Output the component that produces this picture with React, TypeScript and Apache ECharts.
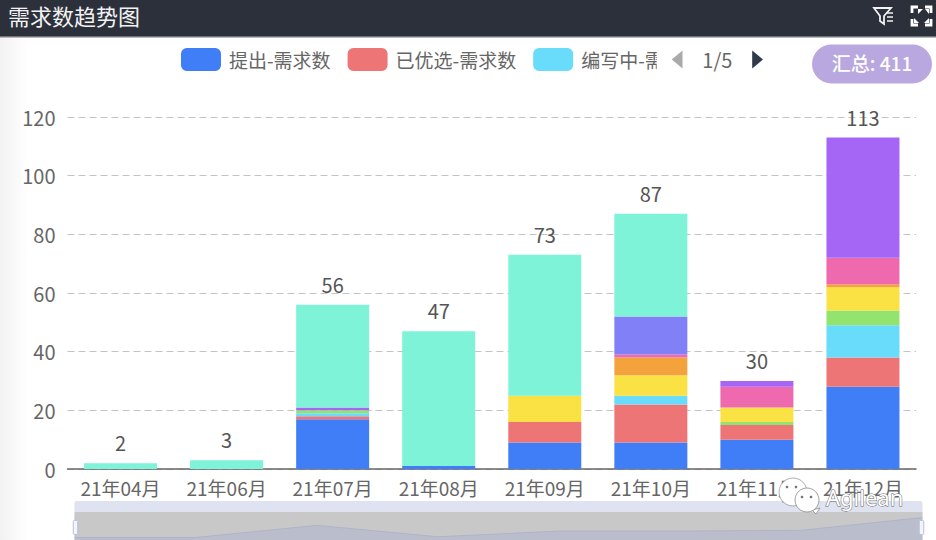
import React, { useEffect, useRef } from "react";
import * as echarts from "echarts";

const TITLE = "需求数趋势图";
const TOTAL_TEXT = "汇总: 411";
const PAGE_TEXT = "1/5";
const WATERMARK = "Agilean";
const months = ["21年04月", "21年06月", "21年07月", "21年08月", "21年09月", "21年10月", "21年11月", "21年12月"];
const legendNames = ["提出-需求数", "已优选-需求数", "编写中-需求数"];
const blue = [0, 0, 17, 1, 9, 9, 10, 28];
const red = [0, 0, 1, 0, 7, 13, 5, 10];
const cyan = [0, 0, 1, 0, 0, 3, 0, 11];
const green = [0, 0, 1, 0, 0, 0, 1, 5];
const yellow = [0, 0, 0, 0, 9, 7, 5, 8];
const orange = [0, 0, 0, 0, 0, 6, 0, 1];
const pink = [0, 0, 0, 0, 0, 1, 7, 9];
const purple = [0, 0, 1, 0, 0, 0, 2, 41];
const indigo = [0, 0, 0, 0, 0, 13, 0, 0];
const teal = [2, 3, 35, 46, 48, 35, 0, 0];
const totals = [2, 3, 56, 47, 73, 87, 30, 113];

const FONT = '"Noto Sans CJK SC", "Noto Sans", sans-serif';

const stack = [
  { name: legendNames[0], data: blue, color: "#3f7ef7" },
  { name: legendNames[1], data: red, color: "#ee7576" },
  { name: legendNames[2], data: cyan, color: "#69dcfb" },
  { name: "s4", data: green, color: "#92e46f" },
  { name: "s5", data: yellow, color: "#fbe244" },
  { name: "s6", data: orange, color: "#f4a23c" },
  { name: "s7", data: pink, color: "#ee69ae" },
  { name: "s8", data: purple, color: "#a566f6" },
  { name: "s9", data: indigo, color: "#8180f6" },
  { name: "s10", data: teal, color: "#7ef3d8" },
];

function buildOption() {
  return {
    animation: false,
    backgroundColor: "#ffffff",
    textStyle: { fontFamily: FONT },
    grid: { left: 67.5, right: 20, top: 117, bottom: 71, containLabel: false },
    legend: {
      type: "scroll",
      data: stack.map((s) => s.name),
      formatter: (name: string) => (legendNames.includes(name) ? name : ""),
      left: 176,
      top: 43,
      width: 582,
      itemWidth: 40,
      itemHeight: 23,
      itemGap: 17,
      icon: "roundRect",
      selectedMode: false,
      textStyle: { color: "#666", fontSize: 19, fontFamily: FONT, padding: [0, 0, 0, 3] },
      pageFormatter: PAGE_TEXT,
      pageIconColor: "#2f3a4c",
      pageIconInactiveColor: "#aaa",
      pageIconSize: [13, 18],
      pageTextStyle: { color: "#666", fontSize: 20, fontFamily: FONT },
      pageButtonGap: 15,
      pageButtonItemGap: 11,
    },
    xAxis: {
      type: "category",
      data: months,
      axisLine: { lineStyle: { color: "#666", width: 1.5 } },
      axisTick: { length: 6, lineStyle: { color: "#666", width: 1.5 } },
      axisLabel: { color: "#666", fontSize: 19, margin: 9, interval: 0, fontFamily: FONT },
    },
    yAxis: {
      type: "value",
      min: 0,
      max: 120,
      interval: 20,
      axisLine: { show: false },
      axisTick: { show: false },
      axisLabel: { color: "#666", fontSize: 20, margin: 12, fontFamily: FONT },
      splitLine: { lineStyle: { color: "#c4c4c4", type: [7, 4], width: 1.2 } },
    },
    dataZoom: [
      {
        type: "slider",
        left: 72,
        right: 16,
        top: 501,
        height: 32,
        showDetail: false,
        brushSelect: true,
        backgroundColor: "#c9c9c9",
        borderColor: "transparent",
        fillerColor: "rgba(200,200,200,0.25)",
        moveHandleSize: 11,
        moveHandleIcon: "none",
        moveHandleStyle: { color: "#dfe3f1", opacity: 1 },
        emphasis: { moveHandleStyle: { color: "#dfe3f1" } },
        handleSize: "70%",
        handleStyle: { color: "#f4f5fa", borderColor: "#b9c0d8" },
        dataBackground: { areaStyle: { color: "#b6bbce", opacity: 1 }, lineStyle: { color: "#a6aec8", opacity: 1, width: 1 } },
        selectedDataBackground: { areaStyle: { color: "#b6bbce", opacity: 1 }, lineStyle: { color: "#a6aec8", opacity: 1, width: 1 } },
      },
    ],
    series: [
      ...stack.map((s) => ({
        type: "bar",
        name: s.name,
        stack: "all",
        data: s.data,
        barWidth: 73,
        itemStyle: { color: s.color },
      })),
      {
        type: "line",
        name: "总计",
        data: totals,
        showSymbol: true,
        showAllSymbol: true,
        symbol: "circle",
        symbolSize: 1,
        itemStyle: { color: "transparent" },
        lineStyle: { opacity: 0, width: 0 },
        label: { show: true, position: "top", distance: 10, color: "#555", opacity: 1, fontSize: 20, fontFamily: FONT },
      },
    ],
    graphic: [
      {
        type: "rect",
        z: 0,
        shape: { x: 0, y: 37, width: 28, height: 503 },
        style: {
          fill: new echarts.graphic.LinearGradient(0, 0, 1, 0, [
            { offset: 0, color: "#f2f2f2" },
            { offset: 1, color: "#ffffff" },
          ]),
        },
      },
      { type: "rect", z: 100, shape: { x: 0, y: 0, width: 936, height: 37 }, style: { fill: "#2b303b" } },
      { type: "rect", z: 100, shape: { x: 0, y: 36.5, width: 936, height: 1.5 }, style: { fill: "#b8b8b8" } },
      {
        type: "text",
        z: 101,
        x: 8,
        y: 15,
        style: { text: TITLE, fill: "#f2f2f2", fontSize: 22, fontFamily: FONT, verticalAlign: "middle", align: "left" },
      },
      {
        type: "polygon",
        z: 101,
        shape: { points: [[874, 8], [891, 8], [884, 16], [884, 24], [880, 21], [880, 16]] },
        style: { fill: "none", stroke: "#f2f2f2", lineWidth: 1.8 },
      },
      ...[13, 17, 21].map((y) => ({
        type: "line",
        z: 101,
        shape: { x1: 887, y1: y, x2: 893, y2: y },
        style: { stroke: "#f2f2f2", lineWidth: 1.5 },
      })),
      ...[
        [[912, 13], [912, 7], [918, 7]],
        [[925, 7], [931, 7], [931, 13]],
        [[912, 19], [912, 25], [918, 25]],
        [[925, 25], [931, 25], [931, 19]],
      ].map((points) => ({
        type: "polyline",
        z: 101,
        shape: { points },
        style: { fill: "none", stroke: "#ffffff", lineWidth: 2.8 },
      })),
      ...[
        [[918, 9], [923, 9], [918, 14]],
        [[925, 9], [929, 9], [929, 14]],
        [[914, 23], [914, 18], [919, 23]],
        [[929, 23], [929, 18], [924, 23]],
      ].map((points) => ({
        type: "polygon",
        z: 101,
        shape: { points },
        style: { fill: "#ffffff" },
      })),
      {
        type: "rect",
        z: 101,
        shape: { x: 812, y: 44.5, width: 120, height: 39, r: 19.5 },
        style: { fill: "#b9a7e0" },
      },
      {
        type: "text",
        z: 102,
        x: 872,
        y: 62,
        style: { text: TOTAL_TEXT, fill: "#ffffff", fontSize: 19, fontWeight: 500, fontFamily: FONT, align: "center", verticalAlign: "middle" },
      },
      {
        type: "polygon",
        z: 110,
        shape: { points: [[782, 502], [786, 498], [792, 504]] },
        style: { fill: "#ffffff", stroke: "#9a9a9a", lineWidth: 0.8 },
      },
      {
        type: "circle",
        z: 110,
        shape: { cx: 793, cy: 492, r: 14 },
        style: { fill: "#ffffff", stroke: "#9a9a9a", lineWidth: 0.8 },
      },
      {
        type: "polygon",
        z: 111,
        shape: { points: [[812, 510], [820, 508], [816, 514]] },
        style: { fill: "#ffffff", stroke: "#8a8a8a", lineWidth: 0.8 },
      },
      {
        type: "circle",
        z: 111,
        shape: { cx: 807, cy: 500, r: 12 },
        style: { fill: "#ffffff", stroke: "#8a8a8a", lineWidth: 0.8 },
      },
      ...[[787, 487], [796, 487], [802, 497], [811, 497]].map(([cx, cy]) => ({
        type: "circle",
        z: 112,
        shape: { cx, cy, r: 1.3 },
        style: { fill: "#777" },
      })),
      {
        type: "text",
        z: 112,
        x: 826,
        y: 497,
        style: {
          text: WATERMARK,
          fill: "#ffffff",
          stroke: "#666",
          lineWidth: 1,
          fontSize: 22,
          fontFamily: '"Noto Sans", sans-serif',
          align: "left",
          verticalAlign: "middle",
        },
      },
    ],
  };
}

export default function App() {
  const ref = useRef<HTMLDivElement>(null);
  useEffect(() => {
    document.body.style.margin = "0";
    document.body.style.overflow = "hidden";
    const chart = echarts.init(ref.current!, undefined, { renderer: "svg" });
    chart.setOption(buildOption() as any);
    return () => chart.dispose();
  }, []);
  return <div ref={ref} style={{ width: 936, height: 540 }} />;
}
